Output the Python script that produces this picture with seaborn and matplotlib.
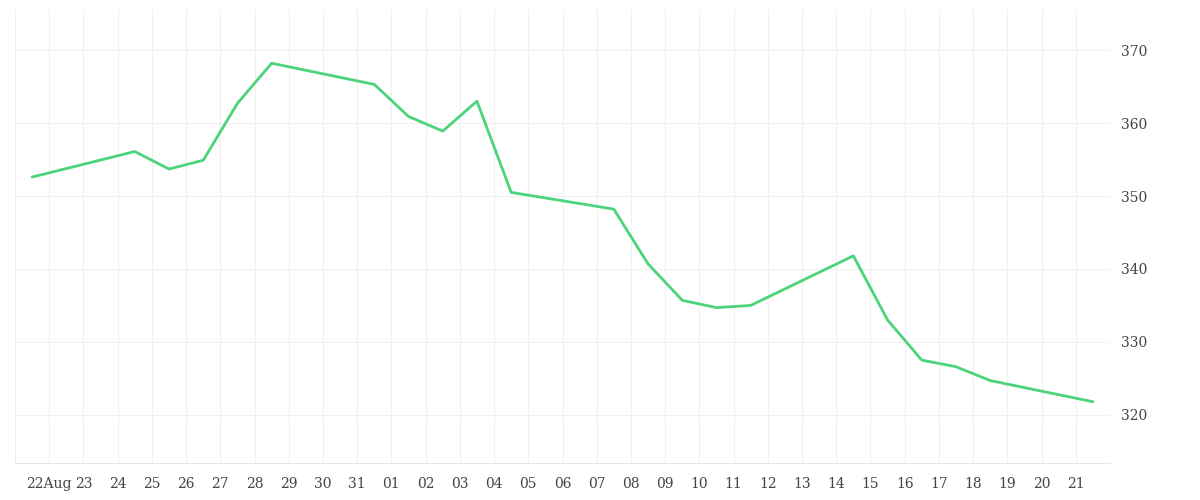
import matplotlib
matplotlib.use("Agg")
import matplotlib.pyplot as plt
import seaborn as sns
import pandas as pd

dates = ["2023-08-21 12:00","2023-08-24 12:00","2023-08-25 12:00","2023-08-26 12:00","2023-08-27 12:00",
         "2023-08-28 12:00","2023-08-31 12:00","2023-09-01 12:00","2023-09-02 12:00","2023-09-03 12:00",
         "2023-09-04 12:00","2023-09-07 12:00","2023-09-08 12:00","2023-09-09 12:00","2023-09-10 12:00",
         "2023-09-11 12:00","2023-09-14 12:00","2023-09-15 12:00","2023-09-16 12:00","2023-09-17 12:00",
         "2023-09-18 12:00","2023-09-21 12:00"]
values = [352.6,356.1,353.7,354.9,362.7,368.2,365.3,360.9,358.9,363.0,350.5,348.2,340.7,335.7,334.7,
          335.0,341.8,333.0,327.5,326.6,324.7,321.8]
yticks = [320, 330, 340, 350, 360, 370]

df = pd.DataFrame({"date": pd.to_datetime(dates), "value": values})

sns.set_style("white")
plt.rcParams['font.family'] = ['DejaVu Serif']
fig = plt.figure(figsize=(12, 5), dpi=100)
ax = fig.add_axes([15/1200, 1-463/500, (1110-15)/1200, (463-10)/500])
sns.lineplot(data=df, x="date", y="value", ax=ax, color="#4cd47a", linewidth=2)

ax.set_xlim(pd.Timestamp("2023-08-21"), pd.Timestamp("2023-09-22"))
ax.set_ylim(313.4, 375.5)
ticks = pd.date_range("2023-08-21", "2023-09-22", freq="D")
ax.set_xticks(ticks)
labels = []
for t in ticks:
    if (t.day == 21 and t.month == 8) or t == ticks[-1]:
        labels.append("")
    elif t.day == 22 and t.month == 8:
        labels.append("22Aug")
    else:
        labels.append(t.strftime("%d"))
ax.set_xticklabels(labels, fontsize=10, color="#444444")
ax.yaxis.tick_right()
ax.set_yticks(yticks)
ax.tick_params(axis="y", length=0, labelsize=10, labelcolor="#444444", pad=8)
ax.tick_params(axis="x", length=6, color="#f0f0f0", pad=4)
ax.grid(True, color="#f0f0f0", linewidth=0.8)
for s in ["left", "right", "top"]:
    ax.spines[s].set_visible(False)
ax.spines["bottom"].set_color("#e6e6e6")
ax.set_xlabel("")
ax.set_ylabel("")
fig.savefig("out.png", dpi=100)
